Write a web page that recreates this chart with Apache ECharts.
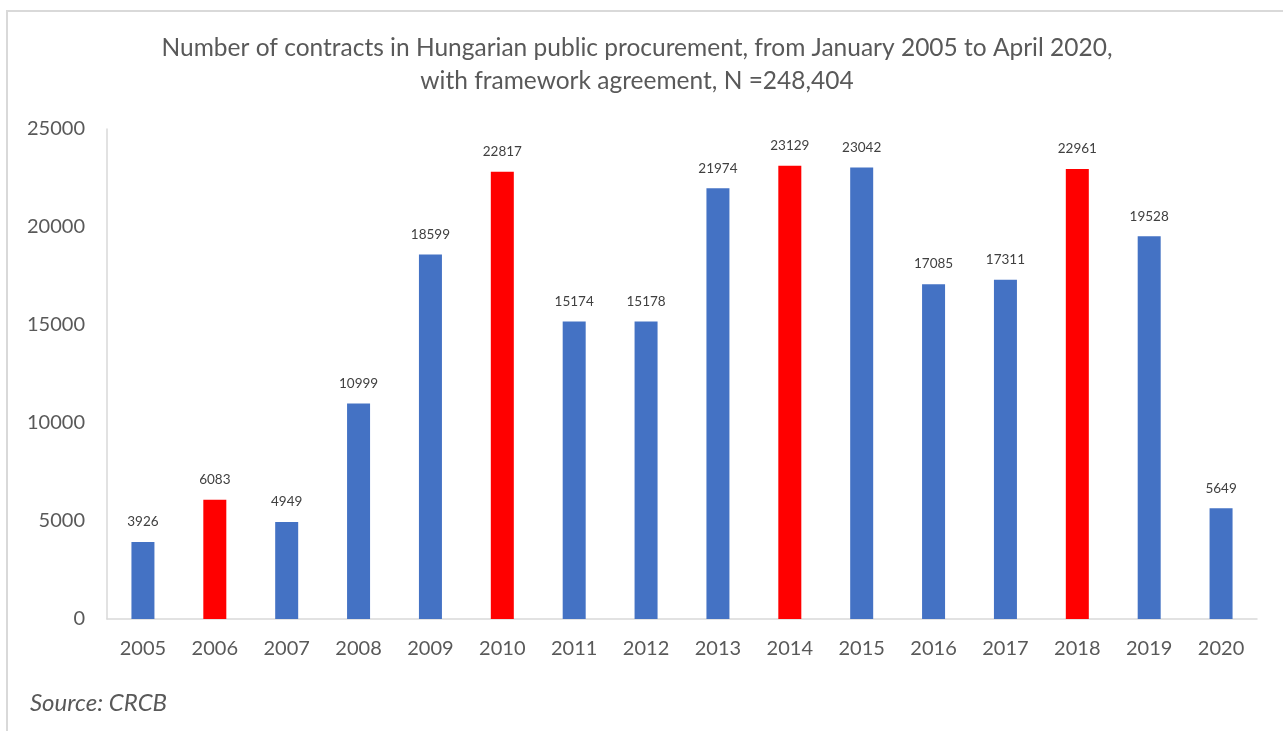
<!DOCTYPE html>
<html>
<head>
<meta charset="utf-8">
<script src="https://cdn.jsdelivr.net/npm/echarts@6/dist/echarts.min.js"></script>
<style>
html, body { margin: 0; padding: 0; background: #fff; }
#chart { width: 1283px; height: 731px; }
</style>
</head>
<body>
<div id="chart"></div>
<script>
// data
var years = ['2005', '2006', '2007', '2008', '2009', '2010', '2011', '2012',
             '2013', '2014', '2015', '2016', '2017', '2018', '2019', '2020'];
var contracts = [3926, 6083, 4949, 10999, 18599, 22817, 15174, 15178,
                 21974, 23129, 23042, 17085, 17311, 22961, 19528, 5649];
var highlightYears = ['2006', '2010', '2014', '2018'];
var yTicks = [0, 5000, 10000, 15000, 20000, 25000];

var FONT = 'Lato, "Open Sans", sans-serif';

var chart = echarts.init(document.getElementById('chart'));

var barData = contracts.map(function (v, i) {
    var red = highlightYears.indexOf(years[i]) >= 0;
    return { value: v, itemStyle: { color: red ? '#ff0000' : '#4472c4' } };
});

chart.setOption({
    animation: false,
    backgroundColor: '#fff',
    title: {
        text: 'Number of contracts in Hungarian public procurement, from January 2005 to April 2020,\nwith framework agreement, N =248,404',
        left: 632,
        top: 27,
        textAlign: 'center',
        textStyle: {
            fontFamily: FONT,
            fontSize: 24.5,
            fontWeight: 'normal',
            color: '#595959',
            lineHeight: 33
        }
    },
    grid: { left: 107, right: 26, top: 129, bottom: 112 },
    xAxis: {
        type: 'category',
        data: years,
        axisLine: { lineStyle: { color: '#d9d9d9', width: 1.5 } },
        axisTick: { show: false },
        axisLabel: {
            fontFamily: FONT, fontSize: 20, color: '#595959', margin: 20
        }
    },
    yAxis: {
        type: 'value',
        min: yTicks[0],
        max: yTicks[yTicks.length - 1],
        interval: 5000,
        axisLine: { show: true, lineStyle: { color: '#d9d9d9', width: 1.5 } },
        axisTick: { show: false },
        splitLine: { show: false },
        axisLabel: {
            fontFamily: FONT, fontSize: 20, color: '#595959', margin: 22,
            formatter: function (v) { return String(v); }
        }
    },
    series: [{
        type: 'bar',
        data: barData,
        barWidth: 23,
        label: {
            show: true,
            position: 'top',
            distance: 13,
            fontFamily: FONT,
            fontSize: 13.5,
            color: '#404040'
        }
    }],
    graphic: [
        {
            type: 'rect',
            shape: { x: 7, y: 11, width: 1300, height: 760 },
            style: { fill: 'none', stroke: '#d9d9d9', lineWidth: 2 },
            silent: true
        },
        {
            type: 'text',
            left: 30,
            top: 691,
            style: {
                text: 'Source: CRCB',
                font: 'italic 24px ' + FONT,
                fill: '#595959'
            }
        }
    ]
});
</script>
</body>
</html>
